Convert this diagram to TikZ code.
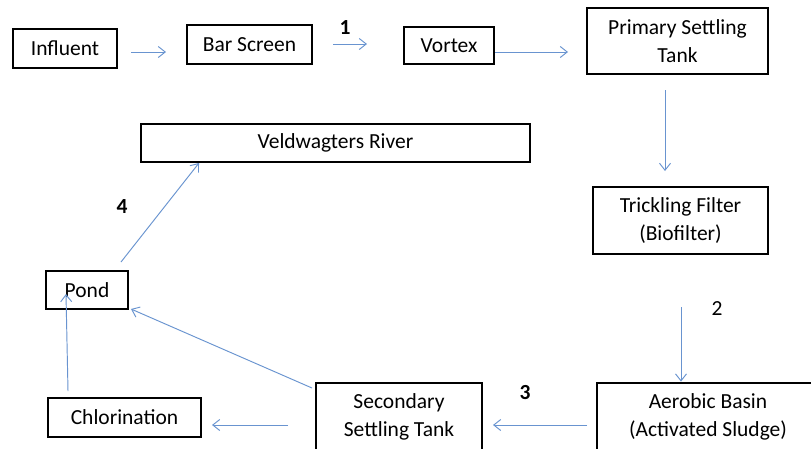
\documentclass[tikz,border=0pt]{standalone}
\usepackage{fontspec}
\setmainfont{Carlito}
\usetikzlibrary{arrows.meta}
\definecolor{arrowblue}{RGB}{105,148,208}
\begin{document}
\begin{tikzpicture}[x=1pt,y=-1pt,
  box/.style={draw=black, line width=2.8pt, inner sep=0pt, align=center,
    font=\fontsize{21.5}{27.5}\selectfont},
  flow/.style={draw=arrowblue, line width=0.95pt, -{Straight Barb[length=7pt,width=11pt]}},
  num/.style={font=\fontsize{21.5}{26}\selectfont\bfseries, inner sep=0pt},
  numreg/.style={font=\fontsize{21.5}{26}\selectfont, inner sep=0pt}]
\clip (0,0) rectangle (811,448);
\fill[white] (0,0) rectangle (811,448);
% boxes
\node[box, minimum width=104pt, minimum height=39pt] (influent) at (65,48.5) {Influent};
\node[box, minimum width=125pt, minimum height=39pt] (bar) at (249.5,44.5) {Bar Screen};
\node[box, minimum width=90pt, minimum height=37pt] (vortex) at (449,45.5) {Vortex};
\node[box, minimum width=181pt, minimum height=66pt] (pst) at (677.5,41) {Primary Settling\\Tank};
\node[box, minimum width=175pt, minimum height=67pt] (tf) at (680.5,220.5) {Trickling Filter\\(Biofilter)};
\node[box, minimum width=222pt, minimum height=68pt] (aer) at (708,417) {Aerobic Basin\\(Activated Sludge)};
\node[box, minimum width=166pt, minimum height=68pt] (sst) at (399,417) {Secondary\\Settling Tank};
\node[box, minimum width=153pt, minimum height=39pt] (chl) at (124.5,417.5) {Chlorination};
\node[box, minimum width=82pt, minimum height=38pt] (pond) at (87,290) {Pond};
\node[box, minimum width=389pt, minimum height=38pt] (river) at (335.5,143) {Veldwagters River};
% free connector ends
\coordinate (a1s) at (131,52);  \coordinate (a1e) at (166,52);
\coordinate (a2s) at (333,44);  \coordinate (a2e) at (367,44);
\coordinate (a3e) at (568,52);
\coordinate (a4s) at (665,90);  \coordinate (a4e) at (665,171);
\coordinate (a5s) at (681,307);
\coordinate (a6s) at (587,425); \coordinate (a6e) at (493,425);
\coordinate (a7s) at (288,425); \coordinate (a7e) at (212,425);
\coordinate (a8s) at (68,391);  \coordinate (a8e) at (66,294);
\coordinate (a9s) at (312,388); \coordinate (a9e) at (131,309);
\coordinate (a10s) at (121,262); \coordinate (a10e) at (199,163);
% connectors
\draw[flow] (a1s) -- (a1e);
\draw[flow] (a2s) -- (a2e);
\draw[flow] (vortex.east |- a3e) -- (a3e);
\draw[flow] (a4s) -- (a4e);
\draw[flow] (a5s) -- (a5s |- aer.north);
\draw[flow] (a6s) -- (a6e);
\draw[flow] (a7s) -- (a7e);
\draw[flow] (a8s) -- (a8e);
\draw[flow] (a9s) -- (a9e);
\draw[flow] (a10s) -- (a10e);
% labels
\node[num] (l1) at (345,28) {1};
\node[numreg] (l2) at (717,309) {2};
\node[num] (l3) at (525,393) {3};
\node[num] (l4) at (122,207) {4};
\end{tikzpicture}
\end{document}
